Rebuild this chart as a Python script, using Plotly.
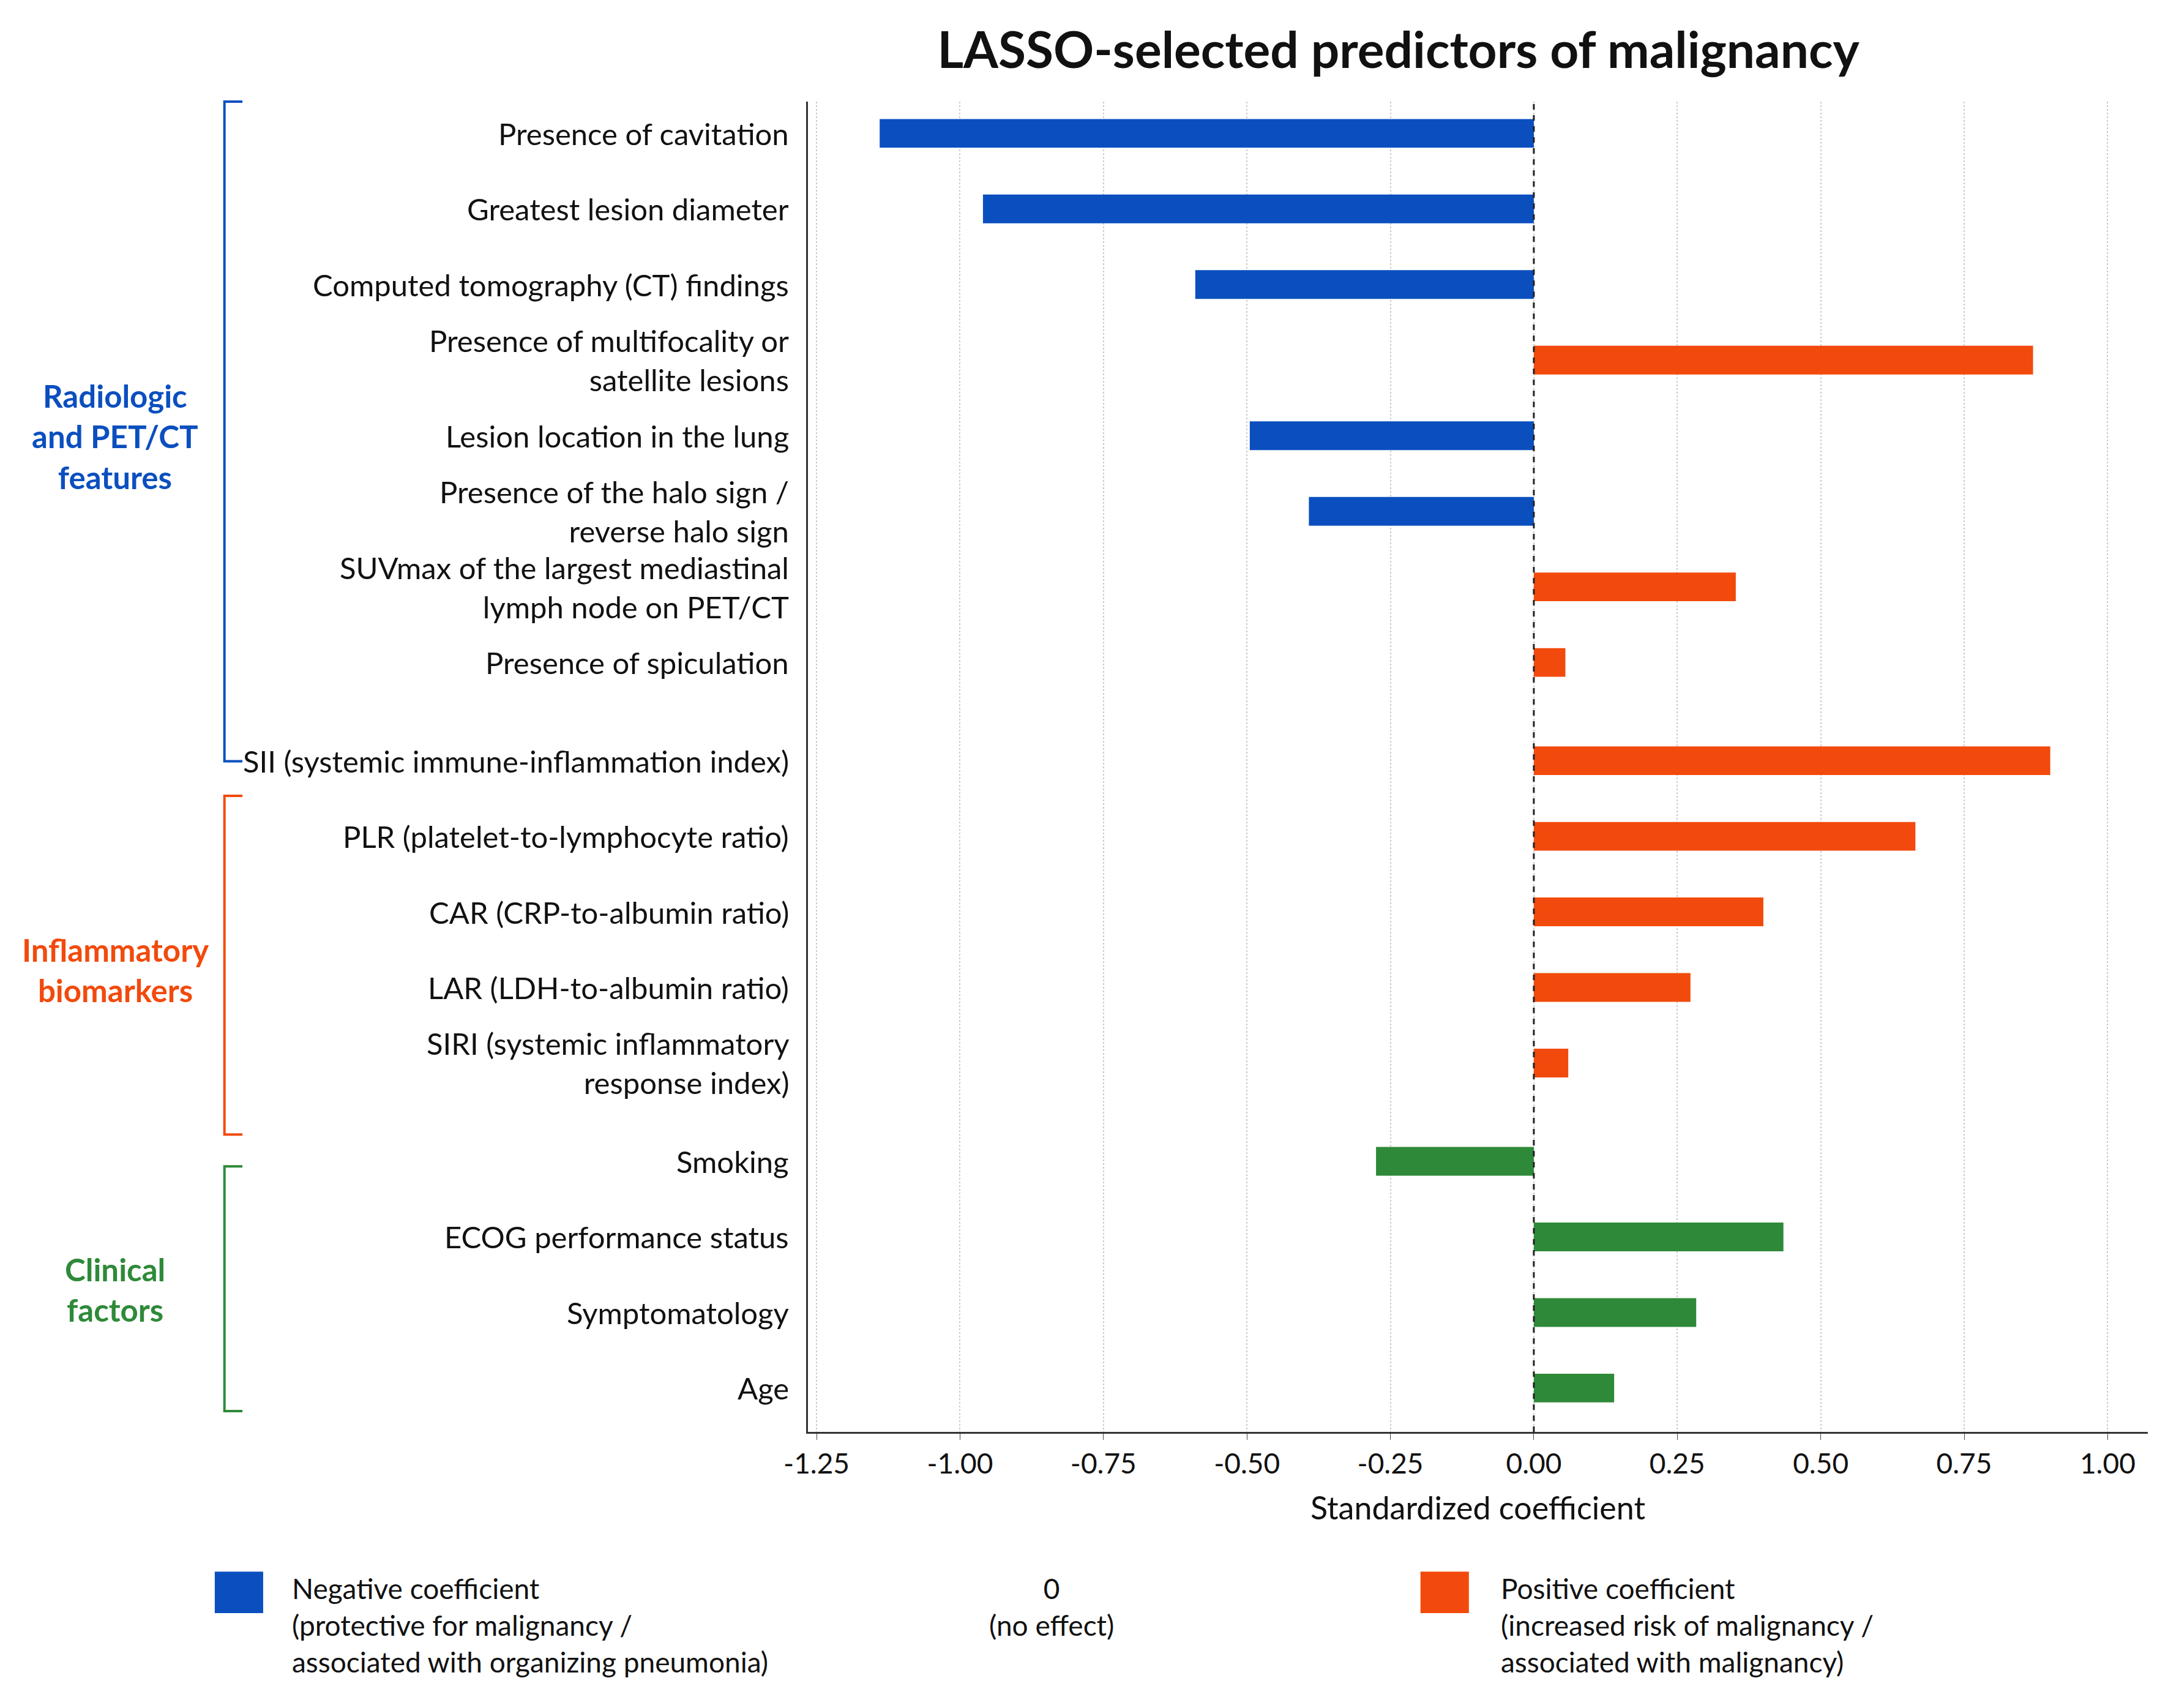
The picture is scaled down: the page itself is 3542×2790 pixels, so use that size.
import plotly.graph_objects as go

labels = ["Presence of cavitation", "Greatest lesion diameter", "Computed tomography (CT) findings",
          "Presence of multifocality or<br>satellite lesions", "Lesion location in the lung",
          "Presence of the halo sign /<br>reverse halo sign",
          "SUVmax of the largest mediastinal<br>lymph node on PET/CT", "Presence of spiculation",
          "SII (systemic immune-inflammation index)", "PLR (platelet-to-lymphocyte ratio)",
          "CAR (CRP-to-albumin ratio)", "LAR (LDH-to-albumin ratio)",
          "SIRI (systemic inflammatory<br>response index)",
          "Smoking", "ECOG performance status", "Symptomatology", "Age"]
coefs = [-1.14, -0.96, -0.59, 0.87, -0.495, -0.392, 0.352, 0.055,
         0.90, 0.665, 0.40, 0.273, 0.06,
         -0.275, 0.435, 0.283, 0.14]
groups = [0]*8 + [1]*5 + [2]*4
group_names = ["Radiologic<br>and PET/CT<br>features", "Inflammatory<br>biomarkers", "Clinical<br>factors"]
xticks = [-1.25, -1.0, -0.75, -0.5, -0.25, 0.0, 0.25, 0.5, 0.75, 1.0]

BLUE, ORANGE, GREEN = "#0b4fbf", "#f24a0c", "#2e8a38"
W, H = 3542, 2790
S = W / 1568.0
L, R, T, B = 581*S, 1550*S, 70*S, 1032*S

GAP = 0.3
ypos = [i + GAP*g for i, g in enumerate(groups)]
ymin, ymax = ypos[0] - 0.42, ypos[-1] + 0.58

def bar_color(c, g):
    if g == 2:
        return GREEN
    return BLUE if c < 0 else ORANGE

fig = go.Figure(go.Bar(x=coefs, y=ypos, orientation="h", width=0.38,
                       marker_color=[bar_color(c, g) for c, g in zip(coefs, groups)],
                       marker_line_width=0))

def px(x):  # display px -> paper x
    return (x*S - L) / (R - L)
def py(y):
    return 1 - (y*S - T) / (B - T)

FONT = "Lato"
ann = []
for lab, y in zip(labels, ypos):
    ann.append(dict(x=px(568), xref="paper", y=y, yref="y", text=lab, showarrow=False,
                    xanchor="right", align="right", font=dict(size=49, color="#111", family=FONT)))
brackets = [(70, 547, BLUE, 312), (572, 817, ORANGE, 698), (840, 1017, GREEN, 929)]
shapes = []
for (y0, y1, col, yc), name in zip(brackets, group_names):
    shapes.append(dict(type="path", xref="paper", yref="paper",
                       path=f"M {px(172)},{py(y0)} L {px(159)},{py(y0)} L {px(159)},{py(y1)} L {px(172)},{py(y1)}",
                       line=dict(color=col, width=4)))
    ann.append(dict(x=px(80), xref="paper", y=py(yc), yref="paper", text=f"<b>{name}</b>", showarrow=False,
                    xanchor="center", yanchor="middle", align="center",
                    font=dict(size=51, color=col, family=FONT)))
shapes.append(dict(type="line", x0=0, x1=0, xref="x", y0=0, y1=1, yref="paper",
                   line=dict(color="#222", width=3, dash="dash")))
# legend
for x0, col in [(152, BLUE), (1024, ORANGE)]:
    shapes.append(dict(type="rect", xref="paper", yref="paper", x0=px(x0), x1=px(x0+35),
                       y0=py(1163), y1=py(1133), fillcolor=col, line_width=0))
ann.append(dict(x=px(207), xref="paper", y=py(1132), yref="paper", yanchor="top", xanchor="left", align="left",
                showarrow=False, font=dict(size=46, color="#111", family=FONT),
                text="Negative coefficient<br>(protective for malignancy /<br>associated with organizing pneumonia)"))
ann.append(dict(x=px(757), xref="paper", y=py(1132), yref="paper", yanchor="top", xanchor="center", align="center",
                showarrow=False, font=dict(size=46, color="#111", family=FONT), text="0<br>(no effect)"))
ann.append(dict(x=px(1081), xref="paper", y=py(1132), yref="paper", yanchor="top", xanchor="left", align="left",
                showarrow=False, font=dict(size=46, color="#111", family=FONT),
                text="Positive coefficient<br>(increased risk of malignancy /<br>associated with malignancy)"))

fig.update_layout(
    width=W, height=H, plot_bgcolor="white", paper_bgcolor="white", showlegend=False,
    margin=dict(l=L, r=W-R, t=T, b=H-B),
    title=dict(text="<b>LASSO-selected predictors of malignancy</b>", xref="paper", x=px(1008), xanchor="center",
               yref="container", y=1-33*S/H, yanchor="middle", font=dict(size=82, color="#111", family=FONT)),
    xaxis=dict(range=[-1.265, 1.07], tickvals=xticks, ticktext=[f"{v:.2f}" for v in xticks],
               showgrid=True, gridcolor="#cccccc", griddash="dot", gridwidth=2,
               showline=True, linecolor="#333", linewidth=3, ticks="outside", ticklen=10,
               tickfont=dict(size=46, color="#111", family=FONT), zeroline=False,
               title=dict(text="Standardized coefficient", font=dict(size=52, color="#111", family=FONT), standoff=30)),
    yaxis=dict(range=[ymax, ymin], showticklabels=False, showgrid=False, zeroline=False,
               showline=True, linecolor="#333", linewidth=3),
    annotations=ann, shapes=shapes,
)
fig.write_html("out.html")
